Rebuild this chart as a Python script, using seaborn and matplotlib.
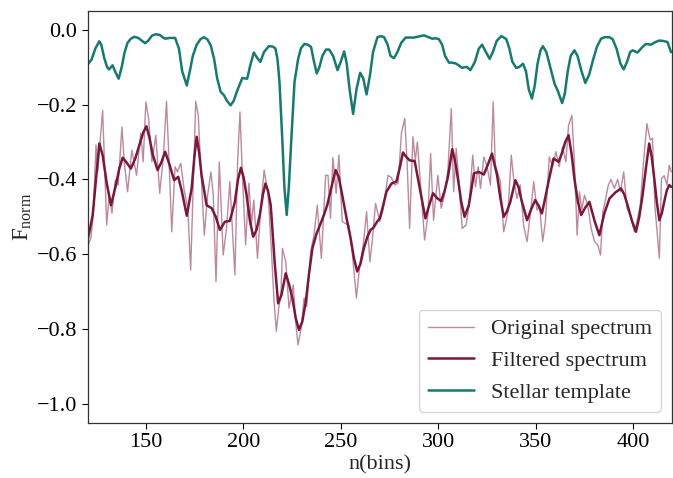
import numpy as np
import pandas as pd
import matplotlib
matplotlib.use("Agg")
import matplotlib.pyplot as plt
import seaborn as sns

# ---------------- data ----------------
orig_x = [120.0, 121.0, 121.7, 122.8, 124.3, 125.2, 127.7, 129.8, 131.1, 132.5, 134.2, 135.7,
          137.6, 138.8, 140.5, 142.7, 145.1, 147.3, 148.5, 149.9, 151.3, 153.0, 155.0, 157.0,
          158.8, 160.5, 161.8, 163.2, 164.9, 166.1, 167.8, 169.6, 171.4, 172.9, 175.5, 176.8,
          178.2, 179.9, 181.6, 183.3, 184.5, 185.9, 187.6, 189.6, 191.3, 193.0, 195.6, 197.0,
          198.2, 199.4, 201.1, 202.8, 204.1, 205.3, 207.2, 208.9, 210.6, 212.7, 214.4, 215.7,
          216.9, 218.1, 219.3, 220.0, 221.7, 223.4, 225.6, 226.8, 228.0, 229.7, 231.1, 232.5,
          234.5, 236.2, 237.9, 240.0, 242.2, 243.4, 244.7, 245.9, 247.6, 249.0, 250.7, 252.4,
          254.1, 255.8, 258.0, 259.7, 261.5, 263.2, 264.9, 266.1, 267.8, 270.0, 271.7, 274.2,
          275.9, 277.7, 279.4, 281.1, 282.8, 284.0, 285.3, 287.0, 288.2, 289.3, 290.8, 293.0,
          294.7, 296.1, 297.6, 299.8, 301.5, 303.2, 305.0, 306.7, 307.9, 309.2, 310.6, 312.3,
          314.3, 315.8, 317.7, 319.1, 320.5, 321.7, 323.4, 325.1, 326.8, 328.2, 329.3, 331.9,
          333.6, 335.8, 337.5, 338.7, 340.4, 342.1, 343.9, 345.6, 347.3, 349.0, 350.7, 352.0,
          353.6, 355.0, 357.0, 358.7, 360.4, 362.1, 363.8, 365.5, 366.9, 368.6, 369.9, 371.3,
          372.5, 373.7, 375.1, 376.8, 378.5, 380.2, 381.9, 383.3, 384.5, 385.6, 387.3, 388.7,
          390.4, 392.1, 393.5, 395.2, 396.9, 398.6, 400.7, 402.0, 403.7, 405.4, 407.1, 408.8,
          410.0, 411.2, 413.5, 414.6, 416.0, 417.4, 418.6, 419.6]
orig_y = [-0.58, -0.565, -0.557, -0.50, -0.308, -0.38, -0.215, -0.522, -0.442, -0.49, -0.402, -0.415,
          -0.26, -0.353, -0.433, -0.322, -0.389, -0.277, -0.353, -0.193, -0.237, -0.353, -0.282, -0.437,
          -0.344, -0.191, -0.353, -0.540, -0.366, -0.38, -0.357, -0.43, -0.477, -0.642, -0.191, -0.229,
          -0.38, -0.549, -0.442, -0.38, -0.442, -0.673, -0.353, -0.602, -0.531, -0.406, -0.655, -0.353,
          -0.22, -0.38, -0.575, -0.41, -0.522, -0.455, -0.611, -0.477, -0.375, -0.442, -0.593, -0.726,
          -0.806, -0.744, -0.70, -0.584, -0.62, -0.744, -0.682, -0.78, -0.842, -0.797, -0.717, -0.74,
          -0.593, -0.549, -0.469, -0.611, -0.389, -0.389, -0.504, -0.342, -0.437, -0.335, -0.513, -0.518,
          -0.522, -0.593, -0.717, -0.629, -0.575, -0.486, -0.62, -0.566, -0.464, -0.513, -0.48, -0.389,
          -0.395, -0.415, -0.41, -0.277, -0.237, -0.353, -0.531, -0.286, -0.349, -0.30, -0.406, -0.562,
          -0.495, -0.331, -0.509, -0.389, -0.477, -0.442, -0.371, -0.211, -0.433, -0.317, -0.406, -0.531,
          -0.522, -0.47, -0.335, -0.42, -0.366, -0.424, -0.34, -0.366, -0.415, -0.193, -0.362, -0.406,
          -0.540, -0.486, -0.335, -0.398, -0.451, -0.415, -0.526, -0.566, -0.491, -0.406, -0.482, -0.47,
          -0.566, -0.513, -0.340, -0.366, -0.326, -0.366, -0.313, -0.353, -0.255, -0.229, -0.353, -0.549,
          -0.433, -0.48, -0.442, -0.47, -0.531, -0.566, -0.575, -0.602, -0.486, -0.46, -0.415, -0.40,
          -0.424, -0.40, -0.433, -0.38, -0.477, -0.495, -0.54, -0.513, -0.469, -0.353, -0.251, -0.295,
          -0.29, -0.469, -0.611, -0.398, -0.39, -0.415, -0.362, -0.38]

filt_x = [120.0, 121.3, 122.6, 124.3, 126.0, 127.7, 129.8, 132.0, 134.5, 136.3, 138.0, 140.0,
          142.2, 144.4, 146.5, 148.5, 150.2, 151.8, 153.3, 155.9, 157.8, 159.8, 162.0, 164.4,
          166.5, 168.3, 170.9, 173.4, 174.8, 176.0, 177.3, 178.5, 181.1, 183.7, 185.8, 187.9,
          190.5, 193.0, 195.6, 197.2, 198.7, 200.1, 201.6, 203.3, 205.0, 206.7, 208.4, 210.0,
          211.3, 212.6, 214.0, 216.0, 217.8, 219.5, 221.7, 223.4, 225.1, 226.8, 228.5, 230.2,
          232.0, 233.7, 235.4, 237.5, 239.6, 241.3, 243.0, 245.2, 247.3, 249.0, 250.7, 252.8,
          255.0, 256.7, 258.4, 260.1, 261.8, 263.5, 265.2, 266.6, 268.6, 270.0, 271.7, 273.4,
          276.0, 278.5, 280.2, 281.9, 283.6, 285.3, 287.9, 290.5, 293.4, 295.3, 297.3, 299.4,
          301.5, 303.3, 305.0, 307.2, 308.6, 310.1, 311.8, 313.5, 315.7, 318.3, 320.8, 323.4,
          325.5, 327.6, 330.2, 331.9, 333.6, 335.3, 337.0, 339.6, 341.2, 342.7, 345.6, 347.7,
          349.8, 351.5, 353.2, 354.9, 356.6, 359.2, 361.8, 363.5, 365.2, 366.9, 368.4, 369.9,
          371.7, 373.4, 375.5, 377.6, 380.2, 382.7, 385.3, 387.9, 390.9, 393.8, 395.5, 397.2,
          399.4, 401.5, 403.2, 404.9, 406.6, 408.3, 409.6, 410.9, 412.2, 413.5, 414.8, 416.0,
          417.3, 418.6, 419.6]
filt_y = [-0.562, -0.53, -0.495, -0.40, -0.304, -0.335, -0.41, -0.469, -0.415, -0.37, -0.342, -0.355,
          -0.371, -0.345, -0.309, -0.275, -0.258, -0.29, -0.331, -0.375, -0.355, -0.326, -0.36, -0.402,
          -0.393, -0.43, -0.497, -0.424, -0.34, -0.286, -0.33, -0.389, -0.469, -0.477, -0.50, -0.535,
          -0.513, -0.511, -0.46, -0.40, -0.369, -0.395, -0.442, -0.51, -0.553, -0.535, -0.495, -0.44,
          -0.411, -0.43, -0.469, -0.62, -0.731, -0.709, -0.651, -0.68, -0.717, -0.77, -0.802, -0.78,
          -0.726, -0.65, -0.584, -0.545, -0.518, -0.495, -0.469, -0.42, -0.375, -0.395, -0.442, -0.50,
          -0.557, -0.61, -0.646, -0.625, -0.584, -0.555, -0.535, -0.530, -0.513, -0.504, -0.47, -0.433,
          -0.411, -0.406, -0.37, -0.328, -0.34, -0.349, -0.351, -0.424, -0.504, -0.47, -0.437, -0.45,
          -0.458, -0.43, -0.393, -0.319, -0.35, -0.398, -0.46, -0.50, -0.469, -0.384, -0.38, -0.387,
          -0.36, -0.331, -0.389, -0.45, -0.50, -0.485, -0.46, -0.402, -0.42, -0.455, -0.509, -0.48,
          -0.455, -0.47, -0.491, -0.45, -0.406, -0.344, -0.353, -0.33, -0.30, -0.282, -0.33, -0.398,
          -0.46, -0.495, -0.475, -0.46, -0.51, -0.549, -0.49, -0.451, -0.435, -0.424, -0.44, -0.469,
          -0.51, -0.540, -0.50, -0.442, -0.37, -0.304, -0.34, -0.398, -0.46, -0.509, -0.49, -0.46,
          -0.43, -0.415, -0.42]

tmpl_x = [120.0, 122.0, 124.0, 126.0, 127.0, 128.5, 130.0, 131.0, 132.8, 134.0, 135.9, 137.5,
          139.0, 140.5, 142.2, 144.0, 146.0, 148.0, 149.5, 151.0, 153.0, 155.0, 157.0, 159.0,
          160.0, 162.0, 164.9, 166.9, 168.5, 170.9, 172.5, 174.0, 176.0, 178.0, 179.7, 181.5,
          183.2, 185.0, 186.5, 188.3, 190.0, 191.5, 193.4, 195.0, 197.0, 199.4, 201.9, 203.5,
          205.3, 207.0, 208.7, 210.5, 213.0, 215.0, 216.4, 217.5, 218.5, 220.0, 221.0, 222.2,
          223.3, 224.5, 226.2, 228.0, 229.5, 231.3, 233.0, 234.7, 236.0, 237.6, 239.0, 240.5,
          242.4, 244.0, 246.0, 248.3, 250.0, 251.7, 253.0, 254.5, 256.3, 258.0, 259.9, 261.5,
          263.2, 265.0, 266.5, 268.8, 270.5, 272.2, 274.0, 275.5, 277.3, 279.0, 281.0, 283.3,
          285.0, 287.5, 290.0, 292.7, 295.0, 296.9, 298.5, 300.3, 302.0, 303.5, 305.5, 307.0,
          308.9, 310.5, 312.2, 313.5, 314.8, 316.5, 318.8, 320.8, 322.5, 324.0, 326.4, 328.0,
          330.0, 332.4, 334.9, 336.5, 338.0, 340.0, 341.5, 343.5, 345.0, 346.5, 348.1, 349.5,
          351.0, 352.5, 353.7, 355.5, 357.5, 359.7, 361.5, 363.6, 365.0, 366.5, 368.0, 369.9,
          371.5, 373.5, 375.5, 377.5, 379.5, 381.5, 383.6, 385.5, 387.8, 389.5, 391.5, 393.5,
          395.2, 397.0, 398.5, 399.8, 401.0, 402.3, 404.5, 406.6, 409.2, 411.5, 413.4, 415.5,
          417.7, 419.5]
tmpl_y = [-0.093, -0.08, -0.05, -0.031, -0.04, -0.075, -0.10, -0.106, -0.095, -0.11, -0.131, -0.10,
          -0.06, -0.035, -0.024, -0.019, -0.022, -0.03, -0.036, -0.03, -0.016, -0.012, -0.014, -0.022,
          -0.024, -0.022, -0.022, -0.051, -0.11, -0.149, -0.11, -0.07, -0.04, -0.025, -0.02, -0.026,
          -0.042, -0.08, -0.13, -0.166, -0.175, -0.19, -0.202, -0.19, -0.16, -0.129, -0.131, -0.095,
          -0.061, -0.075, -0.086, -0.06, -0.044, -0.045, -0.05, -0.08, -0.14, -0.30, -0.42, -0.495,
          -0.42, -0.30, -0.14, -0.08, -0.05, -0.038, -0.04, -0.046, -0.08, -0.117, -0.10, -0.07,
          -0.053, -0.053, -0.07, -0.108, -0.085, -0.058, -0.09, -0.16, -0.225, -0.16, -0.115, -0.13,
          -0.173, -0.12, -0.06, -0.02, -0.017, -0.02, -0.04, -0.07, -0.076, -0.06, -0.035, -0.021,
          -0.021, -0.021, -0.018, -0.015, -0.02, -0.024, -0.023, -0.025, -0.04, -0.07, -0.088, -0.088,
          -0.09, -0.095, -0.102, -0.10, -0.10, -0.108, -0.086, -0.051, -0.04, -0.055, -0.078, -0.06,
          -0.03, -0.017, -0.025, -0.05, -0.085, -0.102, -0.10, -0.091, -0.11, -0.16, -0.184, -0.15,
          -0.09, -0.055, -0.044, -0.06, -0.10, -0.144, -0.165, -0.196, -0.17, -0.11, -0.07, -0.055,
          -0.07, -0.11, -0.142, -0.12, -0.08, -0.045, -0.024, -0.02, -0.02, -0.025, -0.05, -0.09,
          -0.106, -0.085, -0.06, -0.055, -0.058, -0.061, -0.048, -0.038, -0.04, -0.033, -0.029, -0.03,
          -0.033, -0.06]

x_ticks = [150, 200, 250, 300, 350, 400]
y_ticks = [0.0, -0.2, -0.4, -0.6, -0.8, -1.0]

# ---------------- style ----------------
sns.set_theme(style="ticks")
plt.rcParams["font.family"] = ["Liberation Serif", "DejaVu Serif"]
plt.rcParams["mathtext.fontset"] = "custom"
plt.rcParams["mathtext.rm"] = "Liberation Serif"
plt.rcParams["mathtext.it"] = "Liberation Serif:italic"
plt.rcParams["axes.unicode_minus"] = True

c_orig = "#bd8a9a"
c_filt = "#7a1838"
c_tmpl = "#177a72"

fig = plt.figure(figsize=(6.73, 4.78), dpi=100)
ax = fig.add_axes([0.1302, 0.1157, 0.8683, 0.8613])

df_o = pd.DataFrame({"x": orig_x, "y": orig_y})
df_f = pd.DataFrame({"x": filt_x, "y": filt_y})
df_t = pd.DataFrame({"x": tmpl_x, "y": tmpl_y})

common = dict(ax=ax, estimator=None, sort=False, solid_joinstyle="round",
              solid_capstyle="round")
sns.lineplot(data=df_o, x="x", y="y", color=c_orig, lw=1.0,
             label="Original spectrum", **common)
sns.lineplot(data=df_f, x="x", y="y", color=c_filt, lw=1.8,
             label="Filtered spectrum", **common)
sns.lineplot(data=df_t, x="x", y="y", color=c_tmpl, lw=1.8,
             label="Stellar template", **common)

ax.set_xlim(120, 420)
ax.set_ylim(-1.05, 0.05)
ax.set_xticks(x_ticks)
ax.set_yticks(y_ticks)
ax.set_xticklabels([str(v) for v in x_ticks])
ax.set_yticklabels(["0.0" if v == 0 else "\u2212" + f"{abs(v):.1f}" for v in y_ticks])
ax.tick_params(labelsize=16, direction="out", length=4.5, width=0.8, colors="black", pad=3)
ax.set_xlabel("n(bins)", fontsize=16, labelpad=2)
ax.set_ylabel(r"F$_{\mathrm{norm}}$", fontsize=16.5, labelpad=2)
for s in ax.spines.values():
    s.set_color("#333333")
    s.set_linewidth(0.9)

leg = ax.legend(loc="lower right", fontsize=16, frameon=True, fancybox=True,
                handlelength=2.1, borderpad=0.4, labelspacing=0.5, handletextpad=0.75,
                borderaxespad=0.5)
leg.get_frame().set_edgecolor("#cccccc")

fig.savefig("out.png", dpi=100)
